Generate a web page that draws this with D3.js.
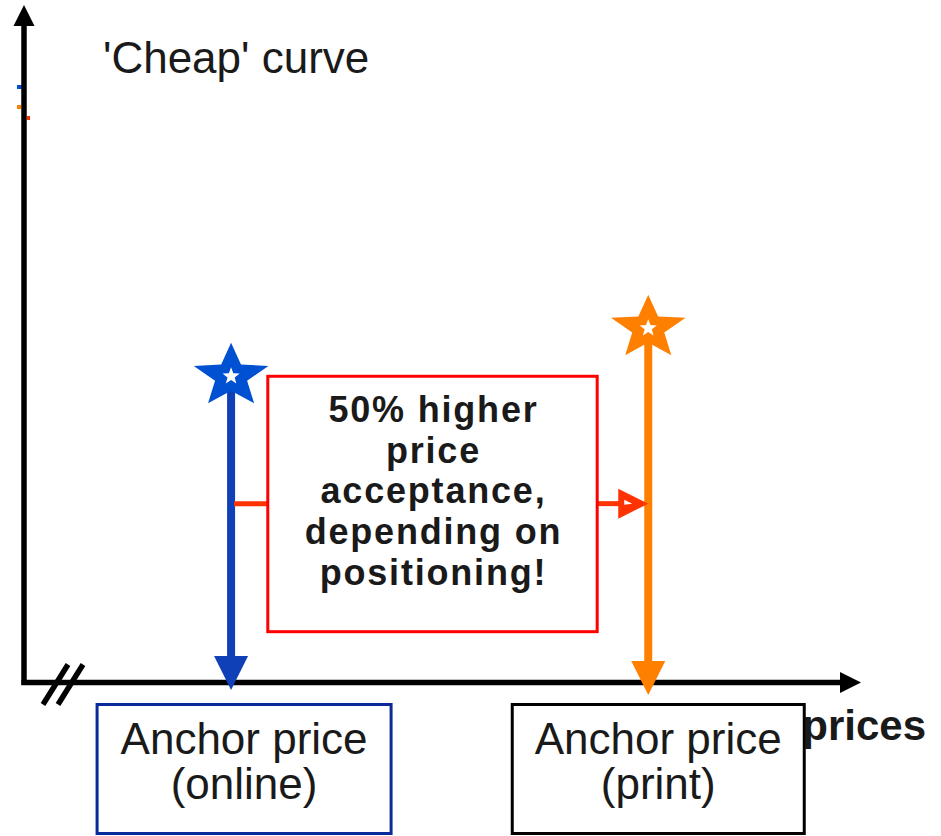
<!DOCTYPE html>
<html>
<head>
<meta charset="utf-8">
<script src="https://cdn.jsdelivr.net/npm/d3@7/dist/d3.min.js"></script>
<style>
  html, body { margin: 0; padding: 0; background: #fff; }
  svg { display: block; }
  text { font-family: "Liberation Sans", Arial, Helvetica, sans-serif; fill: #1a1a1a; }
</style>
</head>
<body>
<svg id="chart" width="941" height="836"></svg>
<script>
// ---------------- data ----------------
const anchors = ["online", "print"];
const anchorPrice = [1.0, 1.5];          // relative price (print is 50% higher)
const acceptance = [45.2, 52.3];         // height of the star marker
const anchorLabels = [["Anchor price", "(online)"], ["Anchor price", "(print)"]];
const calloutLines = ["50% higher", "price", "acceptance,", "depending on", "positioning!"];
const titleText = "'Cheap' curve";
const xAxisTitle = "prices";

// ---------------- layout / style ----------------
const W = 941, H = 836;
const xDomain = [0.75, 1.755];
const yDomain = [0, 100];
const plot = { left: 22.5, right: 861, top: 5, bottom: 682.5 };
const starColors = ["#0050d2", "#ff8000"];
const lineColors = ["#1040b8", "#ff8000"];
const boxStroke = ["#0a2a9a", "#000000"];
const headTipOffset = [7.5, 12.5];
const callout = { x0: 1.044, x1: 1.4388, yTop: 45.2, yBottom: 7.5, yLink: 26.4 };

const svg = d3.select("#chart");
svg.append("rect").attr("width", W).attr("height", H).attr("fill", "#fff");

const x = d3.scaleLinear().domain(xDomain).range([plot.left, plot.right]);
const y = d3.scaleLinear().domain(yDomain).range([plot.bottom, plot.top]);
const x0 = x(xDomain[0]) + 1.5, y0 = y(0);

// star path generator (slightly wider than tall, as in the reference)
function starPath(cx, cy, R, sx, ratio) {
  const pts = [];
  for (let i = 0; i < 10; i++) {
    const r = i % 2 === 0 ? R : R * ratio;
    const a = -Math.PI / 2 + i * Math.PI / 5;
    pts.push([cx + r * Math.cos(a) * sx, cy + r * Math.sin(a)]);
  }
  return d3.line()(pts) + "Z";
}

// tiny legend remnants near the y axis
const g0 = svg.append("g");
g0.append("rect").attr("x", x0 - 7).attr("y", 85).attr("width", 5).attr("height", 4).attr("fill", "#0050d2");
g0.append("rect").attr("x", x0 - 7).attr("y", 105).attr("width", 4).attr("height", 4).attr("fill", "#ff8000");
g0.append("rect").attr("x", x0 + 3).attr("y", 116).attr("width", 3).attr("height", 4).attr("fill", "#ff2a00");

// ---------------- axes ----------------
const axes = svg.append("g");
axes.append("line").attr("x1", x0).attr("x2", x0).attr("y1", y0 + 2.5).attr("y2", y(100) + 18)
  .attr("stroke", "#000").attr("stroke-width", 5.5);
axes.append("path").attr("d", d3.line()([[x0 - 10.5, y(100) + 21], [x0, y(100)], [x0 + 10.5, y(100) + 21]]) + "Z")
  .attr("fill", "#000");
axes.append("line").attr("x1", x0 - 2.5).attr("x2", x(xDomain[1]) - 18).attr("y1", y0).attr("y2", y0)
  .attr("stroke", "#000").attr("stroke-width", 5.5);
axes.append("path").attr("d", d3.line()([[x(xDomain[1]) - 21, y0 - 10.5], [x(xDomain[1]), y0], [x(xDomain[1]) - 21, y0 + 10.5]]) + "Z")
  .attr("fill", "#000");
// axis break marks
[0, 15].forEach(dx => {
  axes.append("line")
    .attr("x1", x0 + 19 + dx).attr("y1", y0 + 22)
    .attr("x2", x0 + 44 + dx).attr("y2", y0 - 18)
    .attr("stroke", "#000").attr("stroke-width", 5.5);
});

// ---------------- title ----------------
svg.append("text").attr("x", 103).attr("y", 73)
  .attr("font-size", 44).text(titleText);

// x axis title (partly behind the print label box)
svg.append("text").attr("x", 926).attr("y", 740)
  .attr("text-anchor", "end").attr("font-size", 42).attr("font-weight", "bold")
  .text(xAxisTitle);

// ---------------- anchor lines, arrowheads, stars ----------------
const marks = svg.append("g");
anchors.forEach((a, i) => {
  const cx = x(anchorPrice[i]);
  const cy = y(acceptance[i]);
  const tip = y0 + headTipOffset[i];
  const headLen = 34, headHalf = 17;
  marks.append("line").attr("x1", cx).attr("x2", cx).attr("y1", cy).attr("y2", tip - headLen + 2)
    .attr("stroke", lineColors[i]).attr("stroke-width", 8);
  marks.append("path")
    .attr("d", d3.line()([[cx - headHalf, tip - headLen], [cx + headHalf, tip - headLen], [cx, tip]]) + "Z")
    .attr("fill", lineColors[i]);
  marks.append("path").attr("d", starPath(cx, cy, 33.5, 1.17, 0.43)).attr("fill", starColors[i]);
  marks.append("path").attr("d", starPath(cx, cy, 9, 1.0, 0.42)).attr("fill", "#fff");
});

// ---------------- callout ----------------
const cg = svg.append("g");
const bx0 = x(callout.x0), bx1 = x(callout.x1), by0 = y(callout.yTop), by1 = y(callout.yBottom);
const linkY = y(callout.yLink);
// left connector
cg.append("line").attr("x1", x(anchorPrice[0]) + 3).attr("x2", bx0).attr("y1", linkY).attr("y2", linkY)
  .attr("stroke", "#ff3300").attr("stroke-width", 5);
// right connector with arrow
const ax1 = x(anchorPrice[1]);
cg.append("line").attr("x1", bx1).attr("x2", ax1 - 28).attr("y1", linkY).attr("y2", linkY)
  .attr("stroke", "#ff3300").attr("stroke-width", 5);
cg.append("path").attr("d", d3.line()([[ax1 - 30, linkY - 15], [ax1, linkY], [ax1 - 30, linkY + 15]]) + "Z")
  .attr("fill", "#ff3300");
cg.append("path").attr("d", d3.line()([[ax1 - 24, linkY - 4], [ax1 - 16, linkY], [ax1 - 24, linkY + 1]]) + "Z")
  .attr("fill", "#fff");
// box
cg.append("rect").attr("x", bx0).attr("y", by0).attr("width", bx1 - bx0).attr("height", by1 - by0)
  .attr("fill", "#fff").attr("stroke", "#ff0000").attr("stroke-width", 3);
const ccx = (bx0 + bx1) / 2 + 1;
cg.selectAll("text.callout").data(calloutLines).join("text")
  .attr("class", "callout")
  .attr("x", ccx).attr("y", (d, i) => by0 + 45.5 + i * 40.8)
  .attr("text-anchor", "middle").attr("font-size", 36).attr("font-weight", "bold")
  .attr("letter-spacing", 1.8)
  .text(d => d);

// ---------------- anchor label boxes ----------------
const lg = svg.append("g");
anchors.forEach((a, i) => {
  const cx = x(anchorPrice[i]) + (i === 0 ? 13 : 10);
  const bw = i === 0 ? 294 : 292;
  lg.append("rect").attr("x", cx - bw / 2).attr("y", y0 + 22).attr("width", bw).attr("height", 129)
    .attr("fill", "#fff").attr("stroke", boxStroke[i]).attr("stroke-width", 3);
  lg.selectAll(null).data(anchorLabels[i]).join("text")
    .attr("x", cx).attr("y", (d, j) => y0 + 71 + j * 45)
    .attr("text-anchor", "middle").attr("font-size", 44)
    .text(d => d);
});
</script>
</body>
</html>
